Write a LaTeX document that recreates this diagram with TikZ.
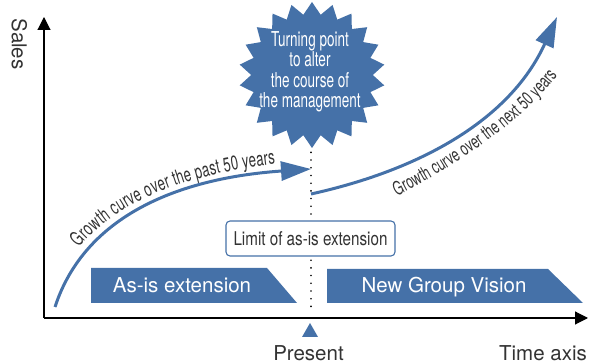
\documentclass[tikz,border=0pt]{standalone}
\usepackage{fontspec}
\setmainfont{TeX Gyre Heros}
\newfontfamily\narrowfont[FakeStretch=0.66]{TeX Gyre Heros}
\newfontfamily\limitfont[FakeStretch=0.8]{TeX Gyre Heros}
\usepackage{xcolor}
\usepackage{tikz}
\usetikzlibrary{arrows.meta}
\usetikzlibrary{positioning}
\usetikzlibrary{shapes.geometric}
\usetikzlibrary{decorations.text}
\definecolor{vblue}{RGB}{69,113,168}
\definecolor{txtgray}{RGB}{51,51,51}

\begin{document}
\begin{tikzpicture}[x=1pt,y=-1pt,
    axis/.style={line width=1.1pt,-{Triangle[length=13pt,width=13pt]}},
    growth/.style={vblue,line width=3pt,-{Triangle[length=30pt,width=19pt]}},
    burst/.style={star,star points=22,star point ratio=1.2,fill=vblue,minimum size=146pt,inner sep=0pt},
    bursttext/.style={white,align=center,font=\narrowfont\fontsize{20.5}{20.5}\selectfont},
    bannertext/.style={white,anchor=base,font=\fontsize{20.5}{24}\selectfont},
    axislabel/.style={text=txtgray,anchor=base,font=\fontsize{20.5}{24}\selectfont},
    limitbox/.style={draw=vblue,line width=1.1pt,fill=white,rounded corners=4pt,minimum width=169pt,minimum height=35pt,inner sep=0pt,text=txtgray,font=\limitfont\fontsize{19}{22}\selectfont},
    curvetext/.style={decorate,decoration={text along path,text align={#1},text color=txtgray}}
  ]
    \useasboundingbox (0,0) rectangle (590,363);

    \coordinate (o) at (44,318);
    \coordinate (xend) at (588,318);
    \coordinate (yend) at (44,17);
    \draw[axis] (o) -- (xend);
    \draw[axis] (o) -- (yend);
    \node[axislabel,rotate=-90] (sales) at (12,44) {Sales};
    \node[axislabel] (present) at (308.5,361) {Present};
    \node[axislabel] (time) at (543,361) {Time axis};
    \fill[vblue] (302,337) -- (318,337) -- (310,323) -- cycle;

    \fill[vblue] (91,268) -- (267,268) -- (297,303) -- (91,303) -- cycle;
    \fill[vblue] (327,269) -- (548,269) -- (583,303) -- (327,303) -- cycle;
    \node[bannertext] (asis) at (182,293) {As-is extension};
    \node[bannertext] (vision) at (444,293) {New Group Vision};

    \node[burst] (turn) at (312,75) {};
    \node[bursttext] (turntext) at (310,72) {Turning point\\to alter\\the course of\\the management};

    \coordinate (dbot) at (311,311);
    \draw[line width=1.8pt,line cap=round,dash pattern=on 0pt off 7.7pt,shorten <=4pt] (turn.south -| dbot) -- (dbot);
    \node[limitbox] (limit) at (310.5,238.5) {Limit of as-is extension};

    \coordinate (p0) at (55,307);
    \coordinate (p1) at (311,169);
    \coordinate (f0) at (311,194);
    \coordinate (f1) at (557,17);
    \draw[growth] (p0) .. controls (85,215) and (180,178) .. (p1);
    \draw[growth] (f0) .. controls (420,170) and (510,120) .. (f1);
    \path[curvetext={left,left indent=62pt},decoration={raise=8pt,text={|\narrowfont\fontsize{20}{24}\selectfont|Growth curve over the past 50 years}}]
        (p0) .. controls (85,215) and (180,178) .. (p1);
    \coordinate (t0) at (393,198);
    \coordinate (t1) at (560,72);
    \path[curvetext=center,decoration={text={|\narrowfont\fontsize{19}{22}\selectfont|Growth curve over the next 50 years}}]
        (t0) .. controls (450,170) and (525,120) .. (t1);
\end{tikzpicture}
\end{document}
